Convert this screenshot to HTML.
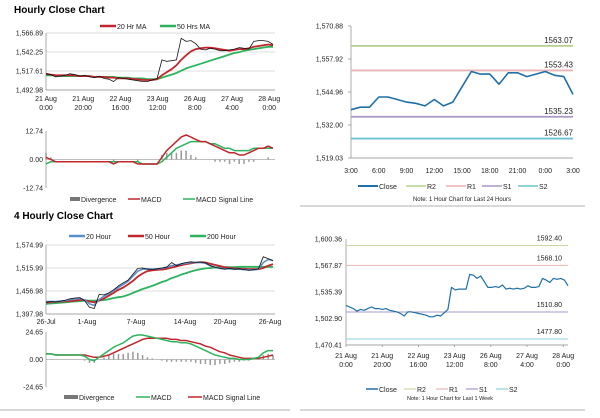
<!DOCTYPE html>
<html><head><meta charset="utf-8"><style>
body{margin:0;background:#fff;width:600px;height:413px;overflow:hidden}
svg{font-family:"Liberation Sans",sans-serif}
</style></head><body>
<svg id="s" width="600" height="413" viewBox="0 0 600 413">
<text x="14" y="13" font-size="10" font-weight="bold">Hourly Close Chart</text>
<text x="14" y="219" font-size="10" font-weight="bold">4 Hourly Close Chart</text>
<line x1="300" y1="206" x2="585" y2="206" stroke="#999" stroke-width="0.8"/>
<line x1="0" y1="410" x2="290" y2="410" stroke="#999" stroke-width="0.8"/>
<line x1="300" y1="410" x2="585" y2="410" stroke="#999" stroke-width="0.8"/>
</svg>
<script>
// ---- Hourly (top-left) ----
const h1Close=[1514,1513,1510,1511,1512,1514,1513,1511,1512,1510,1509,1511,1508,1507,1504,1509,1508,1507,1506,1505,1504,1504,1506,1508,1532,1530,1531,1532,1560,1556,1557,1553,1546,1545,1547,1546,1544,1544,1545,1546,1548,1547,1546,1556,1557,1557,1556,1552];
const h1Ma20=[1514,1513,1512,1512,1512,1512,1512,1511,1511,1511,1510,1510,1510,1509,1509,1508,1508,1508,1507,1507,1506,1506,1506,1507,1512,1516,1520,1525,1532,1538,1543,1546,1547,1548,1548,1547,1546,1545,1544,1545,1546,1546,1547,1549,1550,1551,1552,1551];
const h1Ma50=[1512,1512,1512,1511,1511,1511,1511,1511,1511,1511,1510,1510,1510,1510,1510,1509,1509,1509,1508,1508,1508,1507,1507,1507,1509,1511,1513,1515,1518,1521,1523,1525,1527,1529,1531,1533,1535,1537,1539,1541,1542,1544,1545,1546,1547,1548,1549,1549];
const h1Macd=[1,0,-1,-1,-1,-1,-1,-1,-1,-1,-1,-1,-1,-1,-2,-1,-1,-1,-1,-2,-2,-2,-2,-2,1,4,6,8,10,11,10,9,8,8,7,6,5,4,3,3,2,2,3,4,5,5,6,5];
const h1Signal=[-2,-1,-1,-1,-1,-1,-1,-1,-1,-1,-1,-1,-1,-1,-1,-1,-1,-1,-1,-1,-2,-2,-2,-2,-1,1,3,5,6,7,8,8,8,8,7,7,6,5,5,4,4,4,4,5,5,5,5,5];
const h1YTicks=["1,566.89","1,542.25","1,517.61","1,492.98"];
const h1XTicks=[["21 Aug","0:00"],["21 Aug","20:00"],["22 Aug","16:00"],["23 Aug","12:00"],["26 Aug","8:00"],["27 Aug","4:00"],["28 Aug","0:00"]];
const h1MTicks=["12.74","0.00","-12.74"];
// ---- Last 24h (top-right) ----
const dClose=[1538,1539,1539,1543,1543,1542,1541,1540.5,1539.5,1542,1539.5,1541,1547,1553,1552,1552,1548,1552.5,1552.5,1551,1552,1553,1551.5,1551,1544];
const dLevels=[1563.07,1553.43,1535.23,1526.67];
const dYTicks=["1,570.88","1,557.92","1,544.96","1,532.00","1,519.03"];
const dXTicks=["3:00","6:00","9:00","12:00","15:00","18:00","21:00","0:00","3:00"];
// ---- 4 hourly (bottom-left) ----
const fClose=[1428,1430,1429,1431,1433,1437,1439,1440,1432,1415,1412,1448,1447,1452,1460,1470,1478,1485,1500,1515,1516,1513,1512,1514,1516,1518,1530,1522,1527,1530,1532,1530,1531,1529,1522,1518,1515,1513,1515,1513,1514,1512,1510,1512,1514,1545,1540,1535];
const fMa20=[1430,1430,1430,1431,1432,1435,1437,1438,1434,1424,1420,1435,1444,1450,1458,1466,1474,1482,1495,1508,1513,1514,1513,1514,1515,1518,1522,1524,1526,1528,1530,1530,1530,1528,1522,1518,1515,1514,1514,1513,1513,1512,1511,1511,1513,1530,1538,1535];
const fMa50=[1428,1428,1429,1430,1430,1431,1432,1434,1434,1430,1428,1432,1438,1445,1452,1460,1466,1474,1483,1494,1502,1508,1510,1511,1512,1514,1517,1520,1523,1526,1528,1530,1531,1530,1527,1524,1521,1518,1516,1515,1514,1514,1513,1513,1513,1516,1522,1526];
const fMa200=[1424,1425,1426,1427,1428,1429,1430,1431,1432,1432,1432,1433,1434,1436,1439,1441,1443,1447,1452,1457,1462,1466,1470,1475,1480,1484,1490,1494,1499,1503,1507,1510,1513,1515,1516,1517,1518,1518,1518,1518,1519,1519,1519,1519,1519,1519,1519,1519];
const fMacd=[5,5,4,4,4,4,4,4,3,0,-1,2,5,8,11,13,15,18,21,22,22,21,20,19,18,17,16,16,15,15,14,12,10,8,6,4,3,2,1,1,0,0,0,1,2,6,8,8];
const fSignal=[5,5,4,4,4,4,4,4,4,3,2,2,3,4,6,8,10,12,14,16,18,19,19,19,19,19,18,18,17,17,16,15,14,12,11,9,7,6,4,3,2,1,1,1,1,2,3,4];
const fYTicks=["1,574.99","1,515.99","1,456.98","1,397.98"];
const fXTicks=["26-Jul","1-Aug","7-Aug","14-Aug","20-Aug","26-Aug"];
const fMTicks=["24.65","0.00","-24.65"];
// ---- Last week (bottom-right) ----
const wClose=[1519,1517,1515,1512,1514,1513,1515,1517,1515,1515,1514,1515,1513,1512,1511,1509,1506,1511,1511,1510,1509,1508,1507,1505,1505,1507,1506,1510,1514,1541,1538,1539,1539,1539,1557,1556,1552,1555,1548,1541,1541,1542,1541,1544,1539,1540,1539,1540,1539,1540,1543,1541,1541,1542,1552,1550,1547,1552,1551,1552,1550,1543];
const wLevels=[1592.40,1568.10,1510.80,1477.80];
const wYTicks=["1,600.36","1,567.87","1,535.39","1,502.90","1,470.41"];
const wXTicks=[["21 Aug","0:00"],["21 Aug","20:00"],["22 Aug","16:00"],["23 Aug","12:00"],["26 Aug","8:00"],["27 Aug","4:00"],["28 Aug","0:00"]];

const S=document.getElementById('s');const NS='http://www.w3.org/2000/svg';
function mk(tag,at,txt){const e=document.createElementNS(NS,tag);for(const k in at)e.setAttribute(k,at[k]);if(txt!==undefined)e.textContent=txt;S.appendChild(e);return e;}
function lin(d0,d1,r0,r1){return v=>r0+(v-d0)/(d1-d0)*(r1-r0);}
function poly(data,xs,ys,color,w,name){const p=data.map((v,i)=>xs(i).toFixed(1)+','+ys(v).toFixed(1)).join(' ');
 const e=mk('polyline',{points:p,fill:'none',stroke:color,'stroke-width':w,'stroke-linejoin':'round'});
 
 return e;}
function txt(x,y,s,t,anchor,name){const e=mk('text',{x:x,y:y,'font-size':s,'text-anchor':anchor||'start',fill:'#222'},t);
 
 return e;}
function ln(x1,y1,x2,y2,c,w,name){const e=mk('line',{x1,y1,x2,y2,stroke:c,'stroke-width':w});
 
 return e;}
function legend(items,y){items.forEach(it=>{ln(it[0],y,it[0]+(it[4]||16),y,it[2],it[3],'legend-swatch');txt(it[0]+(it[4]||16)+1,y+3,7,it[1],'start','legend-entry');});}

// Top-left price
(function(){const x0=46,x1=275,yt=33,yb=90,vmax=1566.89,vmin=1492.98;
 const ys=lin(vmin,vmax,yb,yt),xs=i=>lin(0,h1Close.length-1,x0,x1-2)(i);
 h1YTicks.forEach((t,i)=>{const y=yt+i*(yb-yt)/3;if(i<3)ln(x0,y,x1,y,'#bbb',0.6,'gridline');txt(x0-3,y+2.5,7,t,'end','y-tick');});
 ln(x0,yt,x0,yb,'#888',0.7,'y-axis');ln(x0,yb,x1,yb,'#888',0.7,'x-axis');
 h1XTicks.forEach((t,i)=>{const x=x0+i*37.2;txt(x,101,7,t[0],'middle','x-tick');txt(x,110,7,t[1],'middle','x-tick');});
 poly(h1Ma50,xs,ys,'#2db35d',1.8,'ma50-line');poly(h1Ma20,xs,ys,'#c0262b',1.8,'ma20-line');poly(h1Close,xs,ys,'#111',0.8,'close-line');
 legend([[100,'20 Hr MA','#c0262b',2.5],[160,'50 Hrs MA','#2db35d',2.5]],26);
 const mt=131,mb=188,ms=lin(-12.74,12.74,mb,mt);
 h1MTicks.forEach((t,i)=>txt(x0-3,mt+i*(mb-mt)/2+2.5,7,t,'end','macd-y-tick'));
 ln(x0,mt,x0,mb,'#888',0.7,'macd-y-axis');ln(x0,ms(0),x1,ms(0),'#aaa',0.7,'macd-zero');
 h1Macd.forEach((v,i)=>{const d=v-h1Signal[i];ln(xs(i),ms(0),xs(i),ms(d),'#999',1.5,'divergence-bar');});
 poly(h1Signal,xs,ms,'#2db35d',1.5,'signal-line');poly(h1Macd,xs,ms,'#c0262b',1.5,'macd-line');
 legend([[70,'Divergence','#777',4,10],[128,'MACD','#c0262b',1.5,12],[183,'MACD Signal Line','#2db35d',1.5,12]],199);
})();
// Top-right
(function(){const x0=351,x1=573,yt=26,yb=158,vmax=1570.88,vmin=1519.03;
 const ys=lin(vmin,vmax,yb,yt),xs=i=>lin(0,dClose.length-1,x0,x1)(i);
 dYTicks.forEach((t,i)=>{const y=yt+i*(yb-yt)/4;txt(x0-8,y+2.5,7,t,'end','y-tick');ln(x0-3,y,x0,y,'#888',0.7,'y-tickmark');});
 ln(x0,yt,x0,yb,'#888',0.7,'y-axis');ln(x0,yb,x1,yb,'#888',0.7,'x-axis');
 dXTicks.forEach((t,i)=>txt(x0+i*(x1-x0)/8,173,7,t,'middle','x-tick'));
 const lc=['#b5d08c','#e8b4b4','#a898c4','#6cc3d0'],ln2=['r2-line','r1-line','s1-line','s2-line'];
 dLevels.forEach((v,i)=>{ln(x0,ys(v),x1,ys(v),lc[i],1.8,ln2[i]);txt(x1,ys(v)-3,8,v.toFixed(2),'end','level-label');});
 poly(dClose,xs,ys,'#1f6fa8',1.6,'close-line');
 legend([[358,'Close','#1f6fa8',2,20],[406,'R2','#b5d08c',1.5,20],[446,'R1','#e8b4b4',1.5,20],[482,'S1','#a898c4',1.5,20],[518,'S2','#6cc3d0',1.5,20]],186);
 txt(462,201,6,'Note: 1 Hour Chart for Last 24 Hours','middle','note');
})();
// Bottom-left
(function(){const x0=46,x1=275,yt=245,yb=314,vmax=1574.99,vmin=1397.98;
 const ys=lin(vmin,vmax,yb,yt),xs=i=>lin(0,fClose.length-1,x0,x1-2)(i);
 fYTicks.forEach((t,i)=>{const y=yt+i*(yb-yt)/3;if(i<3)ln(x0,y,x1,y,'#bbb',0.6,'gridline');txt(x0-3,y+2.5,7,t,'end','y-tick');});
 ln(x0,yt,x0,yb,'#888',0.7,'y-axis');ln(x0,yb,x1,yb,'#888',0.7,'x-axis');
 const fx=[46,87,136,185,225,270];fXTicks.forEach((t,i)=>txt(fx[i],324,7,t,'middle','x-tick'));
 poly(fMa200,xs,ys,'#2db35d',1.8,'ma200-line');poly(fMa50,xs,ys,'#c0262b',1.8,'ma50-line');poly(fMa20,xs,ys,'#5b8fc9',1.6,'ma20-line');poly(fClose,xs,ys,'#111',0.8,'close-line');
 legend([[69,'20 Hour','#5b8fc9',2.5],[128,'50 Hour','#c0262b',2.5],[190,'200 Hour','#2db35d',2.5]],236);
 const mt=332,mb=387,ms=lin(-24.65,24.65,mb,mt);
 fMTicks.forEach((t,i)=>txt(x0-3,mt+i*(mb-mt)/2+2.5,7,t,'end','macd-y-tick'));
 ln(x0,mt,x0,mb,'#888',0.7,'macd-y-axis');ln(x0,ms(0),x1,ms(0),'#aaa',0.7,'macd-zero');
 fMacd.forEach((v,i)=>{const d=v-fSignal[i];ln(xs(i),ms(0),xs(i),ms(d),'#999',1.5,'divergence-bar');});
 poly(fSignal,xs,ms,'#c0262b',1.5,'signal-line');poly(fMacd,xs,ms,'#2db35d',1.5,'macd-line');
 legend([[64,'Divergence','#777',4,14],[136,'MACD','#2db35d',1.5,14],[188,'MACD Signal Line','#c0262b',1.5,14]],397);
})();
// Bottom-right
(function(){const x0=346,x1=568,yt=239,yb=345,vmax=1600.36,vmin=1470.41;
 const ys=lin(vmin,vmax,yb,yt),xs=i=>lin(0,wClose.length-1,x0,x1)(i);
 wYTicks.forEach((t,i)=>{const y=yt+i*(yb-yt)/4;txt(x0-4,y+2.5,7,t,'end','y-tick');});
 ln(x0,yt,x0,yb,'#888',0.7,'y-axis');ln(x0,yb,x1,yb,'#888',0.7,'x-axis');
 wXTicks.forEach((t,i)=>{const x=x0+i*36.2;ln(x,yb,x,yb+2,'#888',0.7,'x-tickmark');txt(x,358,7,t[0],'middle','x-tick');txt(x,367,7,t[1],'middle','x-tick');});
 const lc=['#c8d6a8','#e8b4b4','#a898c4','#8fd0dc'],ln2=['r2-line','r1-line','s1-line','s2-line'];
 wLevels.forEach((v,i)=>{ln(x0,ys(v),x1,ys(v),lc[i],1,ln2[i]);txt(562,ys(v)-5,7,v.toFixed(2),'end','level-label');});
 poly(wClose,xs,ys,'#1f6fa8',1.2,'close-line');
 legend([[366,'Close','#1f6fa8',1.5,12],[404,'R2','#c8d6a8',1.2,12],[436,'R1','#e8b4b4',1.2,12],[466,'S1','#a898c4',1.2,12],[496,'S2','#8fd0dc',1.2,12]],389);
 txt(450,400,5.5,'Note: 1 Hour Chart for Last 1 Week','middle','note');
})();
</script>
</body></html>
